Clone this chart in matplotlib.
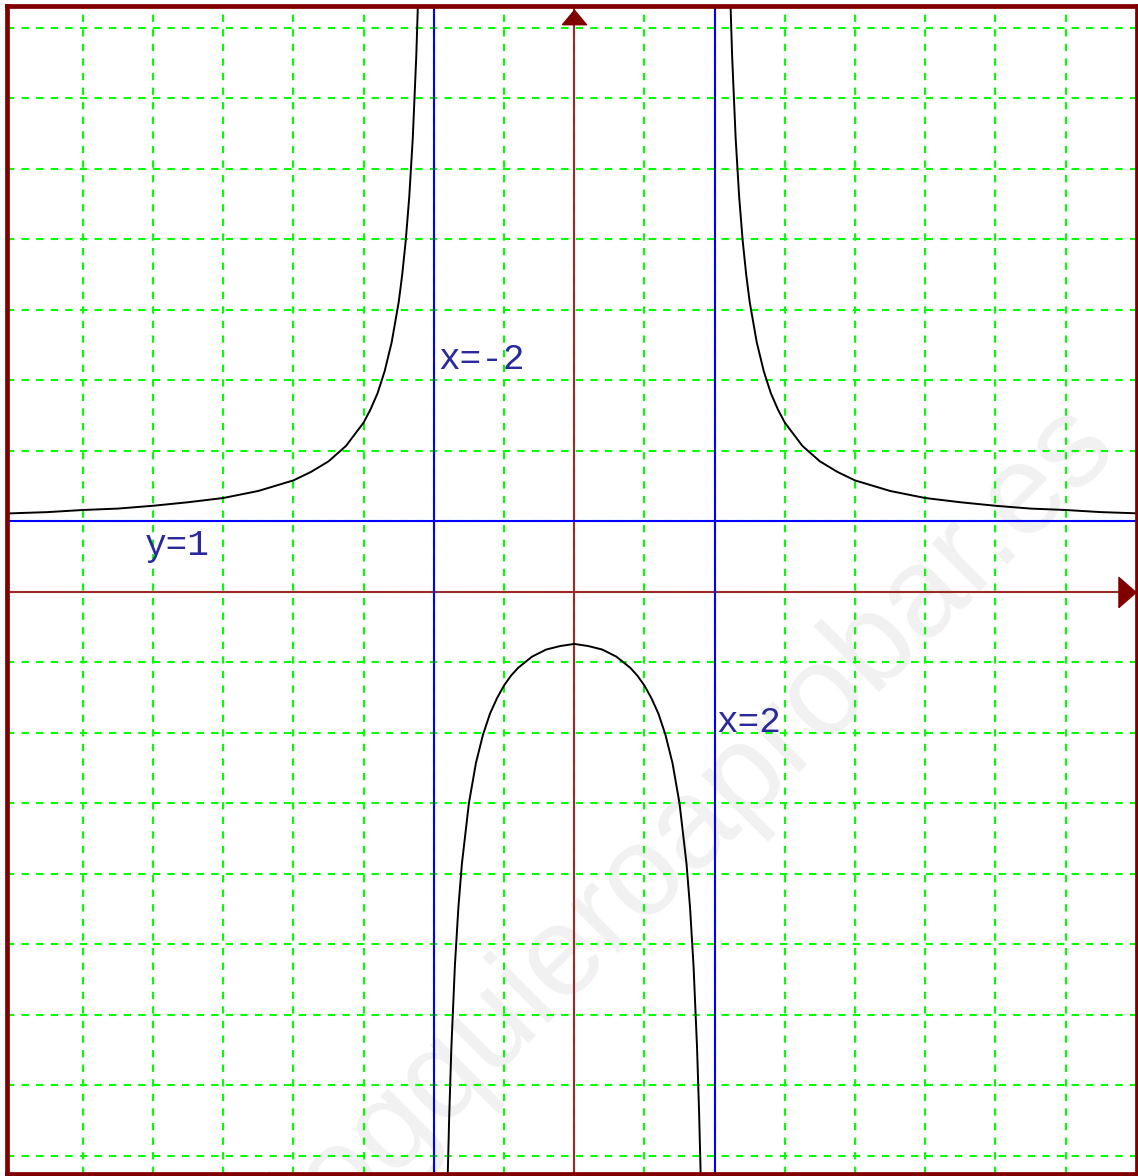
import matplotlib
matplotlib.use("Agg")
import matplotlib.pyplot as plt
from matplotlib.path import Path

# valores (asintotas x=-2, x=2, y=1)
x_izq = [-8.1, -7.5, -7, -6.5, -6, -5.5, -5, -4.5, -4, -3.75, -3.5, -3.25, -3,
         -2.9, -2.8, -2.7, -2.6, -2.5, -2.45, -2.4, -2.35, -2.3, -2.25, -2.22, -2.2]
y_izq = [1.11, 1.13, 1.16, 1.18, 1.22, 1.27, 1.33, 1.43, 1.58, 1.70, 1.85, 2.07, 2.40,
         2.59, 2.82, 3.13, 3.54, 4.11, 4.50, 4.98, 5.60, 6.43, 7.59, 8.54, 9.33]

x_der = [2.2, 2.22, 2.25, 2.3, 2.35, 2.4, 2.45, 2.5, 2.6, 2.7, 2.8, 2.9, 3,
         3.25, 3.5, 3.75, 4, 4.5, 5, 5.5, 6, 6.5, 7, 7.5, 8.1]
y_der = [9.33, 8.54, 7.59, 6.43, 5.60, 4.98, 4.50, 4.11, 3.54, 3.13, 2.82, 2.59, 2.40,
         2.07, 1.85, 1.70, 1.58, 1.43, 1.33, 1.27, 1.22, 1.18, 1.16, 1.13, 1.11]

x_cen = [-1.82, -1.8, -1.78, -1.75, -1.7, -1.65, -1.6, -1.5, -1.4, -1.3, -1.2, -1.1,
         -1.0, -0.9, -0.8, -0.6, -0.4, -0.2, 0, 0.2, 0.4, 0.6, 0.8, 0.9, 1.0,
         1.1, 1.2, 1.3, 1.4, 1.5, 1.6, 1.65, 1.7, 1.75, 1.78, 1.8, 1.82]
y_cen = [-9.18, -8.21, -7.42, -6.47, -5.31, -4.48, -3.86, -3.00, -2.43, -2.03, -1.73, -1.51,
         -1.33, -1.19, -1.08, -0.92, -0.82, -0.77, -0.74, -0.77, -0.82, -0.92, -1.08, -1.19, -1.33,
         -1.51, -1.73, -2.03, -2.43, -3.00, -3.86, -4.48, -5.31, -6.47, -7.42, -8.21, -9.18]

asintotas_v = [-2, 2]
asintota_h = 1
rejilla_x = list(range(-7, 8))
rejilla_y = list(range(-8, 9))

W, H = 1138, 1176
fig = plt.figure(figsize=(W / 100, H / 100), dpi=100)
ax = fig.add_axes([7 / W, 2 / H, 1129.5 / W, 1168 / H])
ax.set_xlim(-8.08, 8.01)
ax.set_ylim(-8.26, 8.31)

for s in ax.spines.values():
    s.set_color("#800000")
    s.set_linewidth(3.4)
    s.set_zorder(10)

ax.set_xticks(rejilla_x)
ax.set_yticks(rejilla_y)
ax.tick_params(length=0, labelbottom=False, labelleft=False)
ax.grid(True, color="#00ff00", lw=1.5, linestyle=(0, (3.5, 3.5)), zorder=1)
ax.set_axisbelow(True)

# marca de agua
ax.text(1.70, -3.94, "blogquieroaprobar.es", rotation=45, rotation_mode="anchor",
        ha="center", va="baseline", fontsize=92, family="Liberation Sans",
        color="#f1f1f1", zorder=0, clip_on=True)

# ejes
ax.axhline(0, color="#a02828", lw=1.5, zorder=3)
ax.axvline(0, color="#a02828", lw=1.5, zorder=3)
flecha_x = Path([(-0.57, -1), (-0.57, 1), (0.57, 0), (-0.57, -1)])
flecha_y = Path([(-1, -0.6), (1, -0.6), (0, 0.6), (-1, -0.6)])
ax.plot(7.87, 0, marker=flecha_x, ms=21.6, color="#800000", zorder=4, clip_on=False)
ax.plot(0, 8.15, marker=flecha_y, ms=17.3, color="#800000", zorder=4, clip_on=False)

# asintotas
for xv in asintotas_v:
    ax.axvline(xv, color="#0000ff", lw=1.5, zorder=4)
ax.axhline(asintota_h, color="#0000ff", lw=1.5, zorder=4)

# funcion
for xs, ys in [(x_izq, y_izq), (x_der, y_der), (x_cen, y_cen)]:
    ax.plot(xs, ys, color="black", lw=1.4, zorder=5)

etiqueta = dict(family="Liberation Mono", fontsize=26, color="#2a2a9c", va="baseline", zorder=6)
ax.text(-1.94, 3.16, "x=-2", **etiqueta)
ax.text(-6.11, 0.52, "y=1", **etiqueta)
ax.text(2.02, -1.99, "x=2", **etiqueta)

fig.savefig("out.png", dpi=100)
